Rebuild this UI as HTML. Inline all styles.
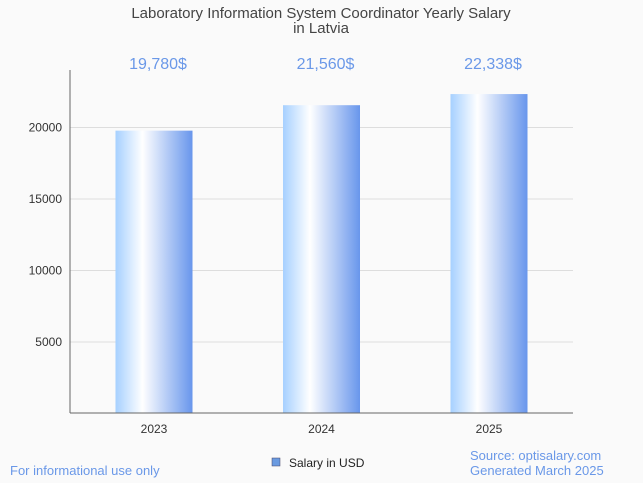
<!DOCTYPE html>
<html><head><meta charset="utf-8"><style>
body{margin:0;background:#fafafa;font-family:"Liberation Sans",sans-serif}
svg{display:block}
</style></head><body>
<svg id="chart" width="643" height="483">
<defs><linearGradient id="bg" x1="0" x2="1" y1="0" y2="0">
<stop offset="0" stop-color="#a6d0ff"/><stop offset="0.35" stop-color="#ffffff"/><stop offset="1" stop-color="#6896ec"/>
</linearGradient></defs>
<rect width="643" height="483" fill="#fafafa"/>
<text x="321" y="18" text-anchor="middle" font-size="15" fill="#444">Laboratory Information System Coordinator Yearly Salary</text>
<text x="321" y="33" text-anchor="middle" font-size="15" fill="#444">in Latvia</text>
<g id="grid"></g><g id="bars"></g>
<line x1="70" y1="70" x2="70" y2="413" stroke="#666"/>
<line x1="70" y1="413" x2="573" y2="413" stroke="#666"/>
<rect x="272" y="458" width="8" height="8" fill="#6a9ae0" stroke="#446" stroke-width="0.5"/>
<text x="289" y="467" font-size="12" fill="#222">Salary in USD</text>
<text x="10" y="475" font-size="13" fill="#6a98e8">For informational use only</text>
<text x="470" y="460" font-size="13" fill="#6a98e8">Source: optisalary.com</text>
<text x="470" y="475" font-size="13" fill="#6a98e8">Generated March 2025</text>
</svg>
<script>
const categories=["2023","2024","2025"];
const values=[19780,21560,22338];
const valueLabels=["19,780$","21,560$","22,338$"];
const yTicks=[5000,10000,15000,20000];
const NS="http://www.w3.org/2000/svg";
const y0=413.5,pxPer=71.5/5000;
const y=v=>y0-v*pxPer;
const x=i=>154+i*167.5;
function mk(t,a,p){const e=document.createElementNS(NS,t);for(const k in a)e.setAttribute(k,a[k]);p.appendChild(e);return e;}
const grid=document.getElementById('grid'),bars=document.getElementById('bars');
yTicks.forEach(t=>{
 const l=mk('line',{x1:70,x2:573,y1:y(t),y2:y(t),stroke:'#ddd'},grid);
 
 
 const tx=mk('text',{x:62,y:y(t)+4,'text-anchor':'end','font-size':12,fill:'#333'},grid);
 tx.textContent=t;
 
 
});
categories.forEach((c,i)=>{
 const r=mk('rect',{x:x(i)-38.5,y:y(values[i]),width:77,height:y0-y(values[i]),fill:'url(#bg)'},bars);
 
 
 const t=mk('text',{x:x(i),y:433,'text-anchor':'middle','font-size':12,fill:'#333'},bars);
 t.textContent=c;
 
 
 const v=mk('text',{x:x(i)+4,y:69,'text-anchor':'middle','font-size':16,fill:'#6a98e8'},bars);
 v.textContent=valueLabels[i];
 
 
});
</script>
</body></html>
